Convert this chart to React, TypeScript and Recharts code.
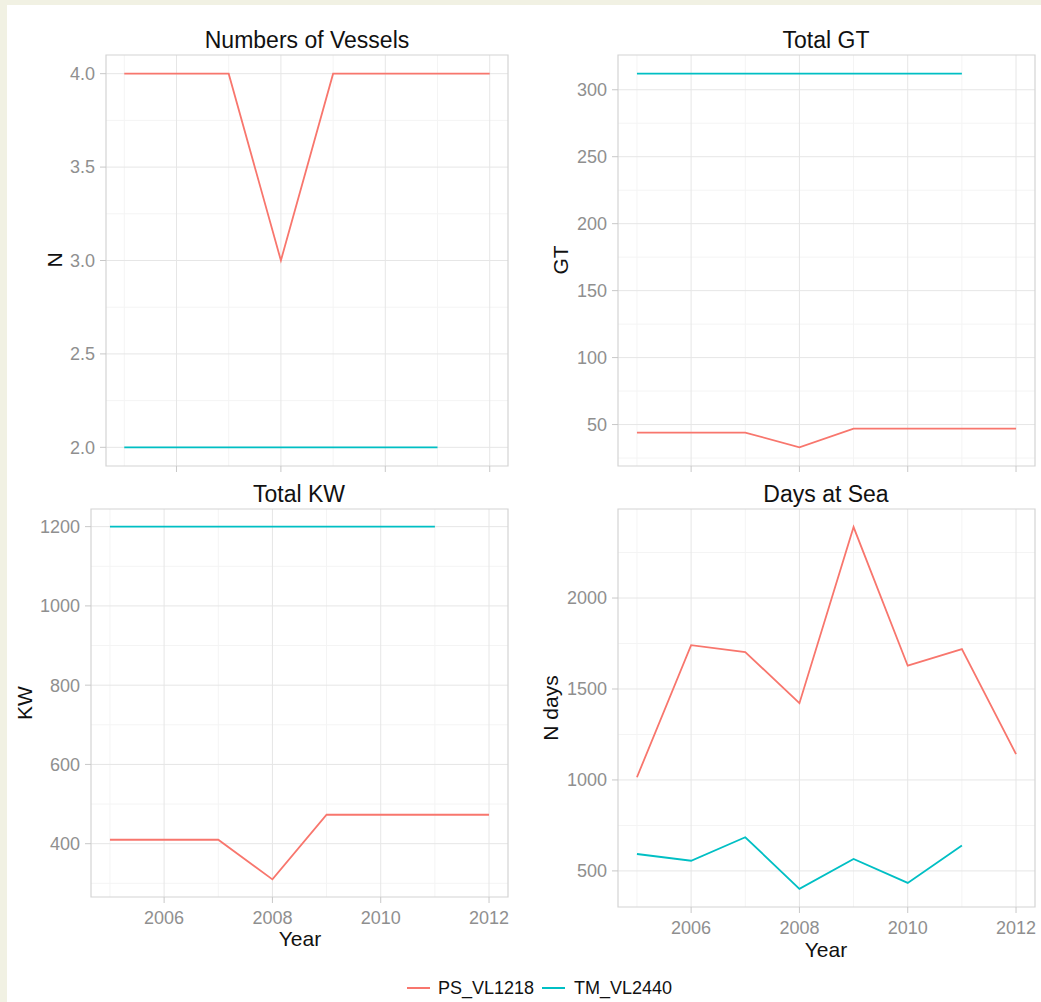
import { LineChart, Line, XAxis, YAxis, CartesianGrid, ReferenceArea } from 'recharts'

const years = [2005, 2006, 2007, 2008, 2009, 2010, 2011, 2012]
const yearTicks = [2006, 2008, 2010, 2012]
const yearMinor = [2005, 2007, 2009, 2011]

const vesselsPS = [4, 4, 4, 3, 4, 4, 4, 4]
const vesselsTM = [2, 2, 2, 2, 2, 2, 2, null]
const vesselTicks = [2, 2.5, 3, 3.5, 4]
const vesselMinor = [2.25, 2.75, 3.25, 3.75]

const gtPS = [44, 44, 44, 33, 47, 47, 47, 47]
const gtTM = [312, 312, 312, 312, 312, 312, 312, null]
const gtTicks = [50, 100, 150, 200, 250, 300]
const gtMinor = [25, 75, 125, 175, 225, 275]

const kwPS = [410, 410, 410, 310, 473, 473, 473, 473]
const kwTM = [1200, 1200, 1200, 1200, 1200, 1200, 1200, null]
const kwTicks = [400, 600, 800, 1000, 1200]
const kwMinor = [300, 500, 700, 900, 1100]

const daysPS = [1015, 1741, 1703, 1422, 2390, 1628, 1719, 1142]
const daysTM = [593, 556, 685, 401, 566, 434, 639, null]
const daysTicks = [500, 1000, 1500, 2000]
const daysMinor = [750, 1250, 1750, 2250]

const PS_COLOR = '#F8766D'
const TM_COLOR = '#00BFC4'
const FONT = '"Liberation Sans", Arial, sans-serif'
const TICK_COLOR = '#8f8f8f'

// ggplot-style 5% expansion around the data range
const padded = (vals: (number | null)[]): [number, number] => {
  const v = vals.filter((n): n is number => n != null)
  const lo = Math.min(...v)
  const hi = Math.max(...v)
  const r = hi - lo
  return [lo - r * 0.05, hi + r * 0.05]
}
const xDomain: [number, number] = [years[0] - 0.35, years[years.length - 1] + 0.35]

type PanelProps = {
  ps: (number | null)[]
  tm: (number | null)[]
  yTicks: number[]
  yMinor: number[]
  yFormat?: (v: number) => string
  left: number
  top: number
  width: number
  height: number
  showX: boolean
}

function Panel(p: PanelProps) {
  const data = years.map((year, i) => ({ year, ps: p.ps[i], tm: p.tm[i] }))
  const yDomain = padded([...p.ps, ...p.tm])
  const yW = 80
  const mTop = 10
  const mRight = 30
  const xH = 40
  return (
    <div style={{ position: 'absolute', left: p.left - yW, top: p.top - mTop }}>
      <LineChart
        width={p.width + yW + mRight}
        height={p.height + mTop + xH}
        data={data}
        margin={{ top: mTop, right: mRight, left: 0, bottom: 0 }}
      >
        <CartesianGrid stroke="#f4f4f4" horizontalValues={p.yMinor} verticalValues={yearMinor} />
        <CartesianGrid stroke="#e6e6e6" horizontalValues={p.yTicks} verticalValues={yearTicks} />
        <XAxis
          dataKey="year"
          type="number"
          domain={xDomain}
          ticks={yearTicks}
          allowDataOverflow
          axisLine={false}
          tickLine={{ stroke: '#c8c8c8' }}
          tickSize={6}
          tickMargin={8}
          height={xH}
          tick={{ fill: TICK_COLOR, fontSize: 18 }}
          tickFormatter={p.showX ? (v: number) => String(v) : () => ''}
        />
        <YAxis
          type="number"
          domain={yDomain}
          ticks={p.yTicks}
          allowDataOverflow
          axisLine={false}
          tickLine={{ stroke: '#c8c8c8' }}
          tickSize={6}
          tickMargin={5}
          width={yW}
          tick={{ fill: TICK_COLOR, fontSize: 18 }}
          tickFormatter={p.yFormat ?? ((v: number) => String(v))}
        />
        <ReferenceArea
          x1={xDomain[0]}
          x2={xDomain[1]}
          y1={yDomain[0]}
          y2={yDomain[1]}
          fill="none"
          stroke="#d4d4d4"
          strokeWidth={1.2}
        />
        <Line dataKey="ps" stroke={PS_COLOR} strokeWidth={1.8} dot={false} isAnimationActive={false} />
        <Line dataKey="tm" stroke={TM_COLOR} strokeWidth={1.8} dot={false} isAnimationActive={false} />
      </LineChart>
    </div>
  )
}

export default function App() {
  return (
    <div
      style={{
        position: 'absolute',
        left: 0,
        top: 0,
        width: 1041,
        height: 1002,
        background: '#f1f1e3',
        fontFamily: FONT,
        overflow: 'hidden',
      }}
    >
      <div style={{ position: 'absolute', left: 7, top: 5, right: 0, bottom: 0, background: '#ffffff' }} />

      <Panel ps={vesselsPS} tm={vesselsTM} yTicks={vesselTicks} yMinor={vesselMinor}
        yFormat={(v) => v.toFixed(1)} left={106} top={55} width={402} height={411} showX={false} />
      <Panel ps={gtPS} tm={gtTM} yTicks={gtTicks} yMinor={gtMinor}
        left={618} top={55} width={417} height={411} showX={false} />
      <Panel ps={kwPS} tm={kwTM} yTicks={kwTicks} yMinor={kwMinor}
        left={91} top={509} width={417} height={388} showX />
      <Panel ps={daysPS} tm={daysTM} yTicks={daysTicks} yMinor={daysMinor}
        left={618} top={509} width={417} height={398} showX />

      {/* titles, axis titles and the shared legend */}
      <svg width={1041} height={1002} style={{ position: 'absolute', left: 0, top: 0, pointerEvents: 'none' }}>
        <g fill="#111111" fontSize={23} textAnchor="middle">
          <text x={307} y={48}>Numbers of Vessels</text>
          <text x={826} y={48}>Total GT</text>
          <text x={299} y={502}>Total KW</text>
          <text x={826} y={502}>Days at Sea</text>
        </g>
        <g fill="#111111" fontSize={21} textAnchor="middle">
          <text transform="translate(62,260) rotate(-90)">N</text>
          <text transform="translate(568,260) rotate(-90)">GT</text>
          <text transform="translate(32,703) rotate(-90)">KW</text>
          <text transform="translate(558,708) rotate(-90)">N days</text>
          <text x={300} y={946}>Year</text>
          <text x={826} y={957}>Year</text>
        </g>
        <g fontSize={18} fill="#111111">
          <line x1={407} x2={430} y1={988} y2={988} stroke={PS_COLOR} strokeWidth={2} />
          <text x={438} y={994}>PS_VL1218</text>
          <line x1={542} x2={565} y1={988} y2={988} stroke={TM_COLOR} strokeWidth={2} />
          <text x={574} y={994}>TM_VL2440</text>
        </g>
      </svg>
    </div>
  )
}
